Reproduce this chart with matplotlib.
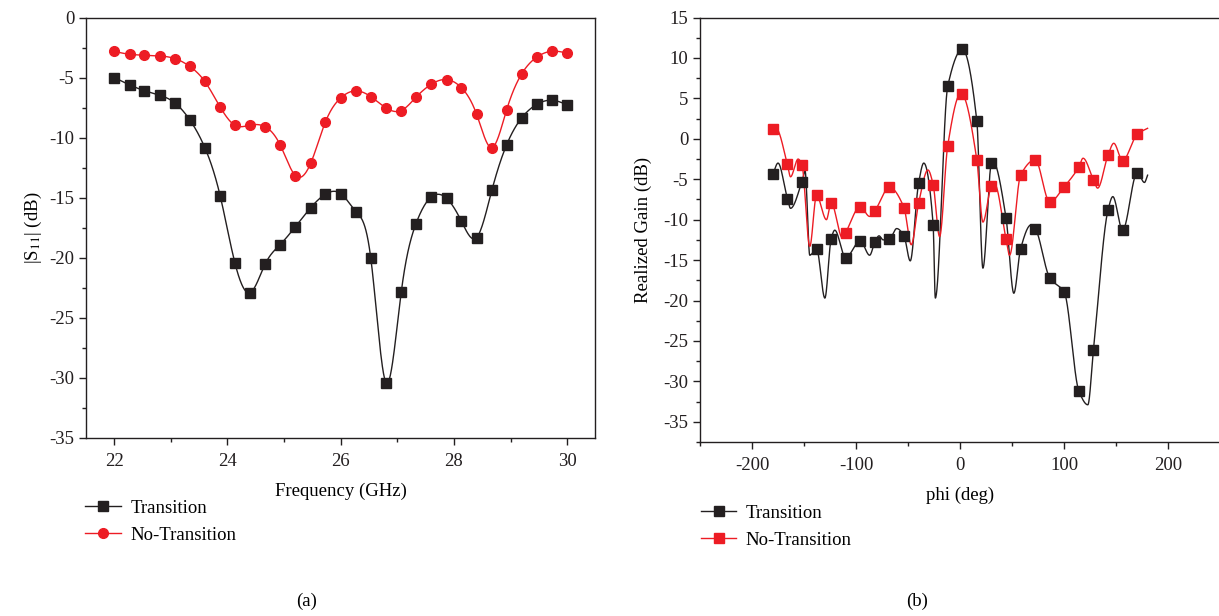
import numpy as np
import matplotlib
matplotlib.use('Agg')
import matplotlib.pyplot as plt
from matplotlib.ticker import MultipleLocator

# ---- data: (a) |S11| vs frequency ----
freq = [22.0, 22.27, 22.53, 22.8, 23.07, 23.33, 23.6, 23.87, 24.13, 24.4, 24.67,
        24.93, 25.2, 25.47, 25.73, 26.0, 26.27, 26.53, 26.8, 27.07, 27.33, 27.6,
        27.87, 28.13, 28.4, 28.67, 28.93, 29.2, 29.47, 29.73, 30.0]
s11_transition = [-4.97, -5.58, -6.06, -6.44, -7.08, -8.47, -10.81, -14.81, -20.39,
                  -22.89, -20.47, -18.89, -17.39, -15.81, -14.69, -14.64, -16.14,
                  -19.97, -30.39, -22.81, -17.14, -14.92, -15.03, -16.92, -18.31,
                  -14.36, -10.58, -8.31, -7.19, -6.86, -7.25]
s11_no_transition = [-2.8, -3.03, -3.11, -3.17, -3.39, -4.03, -5.3, -7.42, -8.94,
                     -8.94, -9.08, -10.58, -13.14, -12.11, -8.67, -6.67, -6.08, -6.56,
                     -7.5, -7.72, -6.61, -5.53, -5.14, -5.81, -8.03, -10.81, -7.67,
                     -4.64, -3.25, -2.78, -2.94]

# ---- data: (b) realized gain vs phi (marker samples) ----
phi = [-180, -166, -152, -138, -124, -110, -96, -82, -68, -54, -40, -26, -12,
       2, 16, 30, 44, 58, 72, 86, 100, 114, 128, 142, 156, 170]
gain_transition = [-4.38, -7.4, -5.29, -13.6, -12.4, -14.7, -12.6, -12.8, -12.4,
                   -12.0, -5.5, -10.6, 6.5, 11.07, 2.15, -3.0, -9.75, -13.6,
                   -11.1, -17.2, -19.0, -31.2, -26.1, -8.8, -11.3, -4.2]
gain_no_transition = [1.2, -3.14, -3.26, -7.0, -7.9, -11.6, -8.4, -8.9, -6.0,
                      -8.5, -8.0, -5.66, -0.83, 5.5, -2.64, -5.87, -12.36, -4.5,
                      -2.6, -7.81, -5.91, -3.47, -5.08, -2.02, -2.69, 0.58]
# extra curve points between markers (peaks / nulls)
phi_tr_extra = [-175, -163, -149, -144.5, -130, -120.5, -87, -78, -74, -61, -48,
                -35, -23.9, 21.8, 31.4, 51.5, 68, 122.6, 146.6, 177, 180]
gain_tr_extra = [-3.0, -8.6, -4.0, -14.4, -19.7, -11.3, -14.4, -12.0, -12.5, -11.1,
                 -15.1, -3.0, -19.7, -16.0, -2.8, -19.1, -10.65, -32.9, -7.15,
                 -5.4, -4.5]
phi_nt_extra = [-177, -163, -155.7, -144.5, -128.5, -113, -87, -47, -31, -19.8,
                0.5, 21.8, 33, 47.4, 118, 132, 147.5, 180]
gain_nt_extra = [1.3, -4.7, -2.5, -13.3, -10.0, -12.3, -9.6, -13.1, -3.85, -12.1,
                 5.6, -10.3, -5.6, -14.4, -2.4, -6.1, -0.55, 1.3]

BLACK = '#231f20'
RED = '#ed1c24'

plt.rcParams['font.family'] = ['Liberation Serif', 'DejaVu Serif']
plt.rcParams['mathtext.fontset'] = 'stix'
plt.rcParams['axes.unicode_minus'] = False
plt.rcParams['font.size'] = 13.5


def natural_spline(x, y, xs):
    x = np.asarray(x, float)
    y = np.asarray(y, float)
    n = len(x)
    h = np.diff(x)
    A = np.zeros((n, n))
    r = np.zeros(n)
    A[0, 0] = A[-1, -1] = 1
    for i in range(1, n - 1):
        A[i, i - 1] = h[i - 1]
        A[i, i] = 2 * (h[i - 1] + h[i])
        A[i, i + 1] = h[i]
        r[i] = 6 * ((y[i + 1] - y[i]) / h[i] - (y[i] - y[i - 1]) / h[i - 1])
    M = np.linalg.solve(A, r)
    k = np.clip(np.searchsorted(x, xs) - 1, 0, n - 2)
    t0 = x[k + 1] - xs
    t1 = xs - x[k]
    hk = h[k]
    return (M[k] * t0 ** 3 / (6 * hk) + M[k + 1] * t1 ** 3 / (6 * hk)
            + (y[k] / hk - M[k] * hk / 6) * t0 + (y[k + 1] / hk - M[k + 1] * hk / 6) * t1)


def pchip(x, y, xs):
    x = np.asarray(x, float)
    y = np.asarray(y, float)
    h = np.diff(x)
    d = np.diff(y) / h
    n = len(x)
    m = np.zeros(n)
    for i in range(1, n - 1):
        if d[i - 1] * d[i] > 0:
            w1 = 2 * h[i] + h[i - 1]
            w2 = h[i] + 2 * h[i - 1]
            m[i] = (w1 + w2) / (w1 / d[i - 1] + w2 / d[i])
    m[0] = d[0]
    m[-1] = d[-1]
    k = np.clip(np.searchsorted(x, xs) - 1, 0, n - 2)
    t = (xs - x[k]) / h[k]
    h00 = 2 * t ** 3 - 3 * t ** 2 + 1
    h10 = t ** 3 - 2 * t ** 2 + t
    h01 = -2 * t ** 3 + 3 * t ** 2
    h11 = t ** 3 - t ** 2
    return h00 * y[k] + h10 * h[k] * m[k] + h01 * y[k + 1] + h11 * h[k] * m[k + 1]


def merged(xa, ya, xb, yb):
    xx = np.concatenate([xa, xb])
    yy = np.concatenate([ya, yb])
    o = np.argsort(xx)
    return xx[o], yy[o]


fig = plt.figure(figsize=(12.19, 6.16), dpi=100, facecolor='white')
ax1 = fig.add_axes([0.0705, 0.289, 0.418, 0.682])
ax2 = fig.add_axes([0.5742, 0.2825, 0.4270, 0.689])

# (a)
fs = np.linspace(freq[0], freq[-1], 800)
ax1.plot(fs, natural_spline(freq, s11_transition, fs), color=BLACK, lw=1.0)
ax1.plot(fs, natural_spline(freq, s11_no_transition, fs), color=RED, lw=1.0)
ax1.plot(freq, s11_transition, 's', color=BLACK, ms=6.5, ls='none')
ax1.plot(freq, s11_no_transition, 'o', color=RED, ms=7, ls='none')
h1, = ax1.plot([], [], '-s', color=BLACK, ms=6.5, lw=1.0)
h2, = ax1.plot([], [], '-o', color=RED, ms=7, lw=1.0)
ax1.set_xlim(21.5, 30.5)
ax1.set_ylim(-35, 0)
ax1.xaxis.set_major_locator(MultipleLocator(2))
ax1.xaxis.set_minor_locator(MultipleLocator(1))
ax1.yaxis.set_major_locator(MultipleLocator(5))
ax1.yaxis.set_minor_locator(MultipleLocator(2.5))
ax1.set_xlabel('Frequency (GHz)', labelpad=9)
ax1.set_ylabel(r'|S$_{11}$| (dB)', labelpad=4)
fig.legend([h1, h2], ['Transition', 'No-Transition'], loc='center left',
           bbox_to_anchor=(0.056, 0.153), frameon=False, handlelength=1.9,
           handletextpad=0.5, labelspacing=0.55, fontsize=13.5)

# (b)
ps = np.linspace(-180, 180, 1500)
xt, yt = merged(phi, gain_transition, phi_tr_extra, gain_tr_extra)
xn, yn = merged(phi, gain_no_transition, phi_nt_extra, gain_nt_extra)
ax2.plot(ps, pchip(xt, yt, ps), color=BLACK, lw=1.0)
ax2.plot(ps, pchip(xn, yn, ps), color=RED, lw=1.0)
ax2.plot(phi, gain_transition, 's', color=BLACK, ms=6.5, ls='none')
ax2.plot(phi, gain_no_transition, 's', color=RED, ms=6.5, ls='none')
g1, = ax2.plot([], [], '-s', color=BLACK, ms=6.5, lw=1.0)
g2, = ax2.plot([], [], '-s', color=RED, ms=6.5, lw=1.0)
ax2.set_xlim(-250, 250)
ax2.set_ylim(-37.5, 15)
ax2.xaxis.set_major_locator(MultipleLocator(100))
ax2.xaxis.set_minor_locator(MultipleLocator(50))
ax2.yaxis.set_major_locator(MultipleLocator(5))
ax2.yaxis.set_minor_locator(MultipleLocator(2.5))
ax2.set_xlabel('phi (deg)', labelpad=9)
ax2.set_ylabel('Realized Gain (dB)', labelpad=8)
ax2.spines['right'].set_visible(False)
fig.legend([g1, g2], ['Transition', 'No-Transition'], loc='center left',
           bbox_to_anchor=(0.561, 0.145), frameon=False, handlelength=1.9,
           handletextpad=0.5, labelspacing=0.55, fontsize=13.5)

for ax in (ax1, ax2):
    ax.tick_params(which='major', direction='out', length=5, width=1, colors=BLACK,
                   labelsize=13.5)
    ax.tick_params(which='minor', direction='out', length=3, width=1, colors=BLACK)
    ax.tick_params(axis='x', which='major', pad=6)
    for s in ax.spines.values():
        s.set_linewidth(1.0)
        s.set_color(BLACK)

fig.text(307 / 1219, 1 - 601 / 616, '(a)', ha='center', va='center', fontsize=13.5)
fig.text(917 / 1219, 1 - 601 / 616, '(b)', ha='center', va='center', fontsize=13.5)

fig.savefig('out.png', dpi=100, facecolor='white')
